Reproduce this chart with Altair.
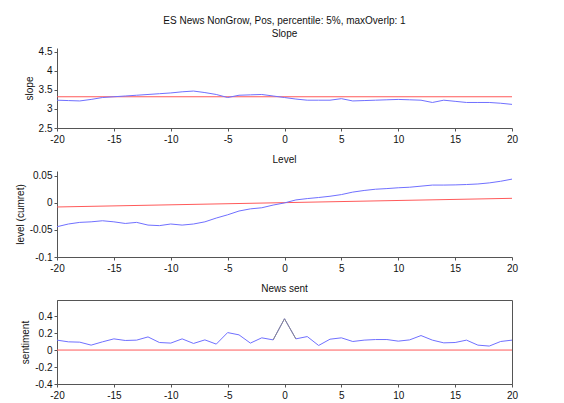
import altair as alt
import pandas as pd

# ---------------- data ----------------
x = list(range(-20, 21))

slope_blue = [3.23, 3.22, 3.21, 3.25, 3.30, 3.32, 3.34, 3.36, 3.38, 3.40,
              3.42, 3.45, 3.47, 3.43, 3.38, 3.30, 3.36, 3.37, 3.38, 3.34,
              3.30, 3.26, 3.23, 3.23, 3.23, 3.27, 3.21, 3.22, 3.23, 3.24,
              3.25, 3.24, 3.23, 3.17, 3.23, 3.20, 3.17, 3.17, 3.17, 3.15,
              3.12]
slope_red_x = [-20, 20]
slope_red = [3.32, 3.32]

level_blue = [-0.044, -0.039, -0.036, -0.035, -0.033, -0.035, -0.038, -0.036,
              -0.041, -0.042, -0.039, -0.041, -0.039, -0.035, -0.028, -0.022,
              -0.015, -0.011, -0.009, -0.004, 0.000, 0.0055, 0.008, 0.010,
              0.0123, 0.0154, 0.020, 0.023, 0.0253, 0.0265, 0.028, 0.029,
              0.031, 0.033, 0.033, 0.0333, 0.034, 0.035, 0.037, 0.040, 0.044]
level_red_x = [-20, 20]
level_red = [-0.0075, 0.0085]

sent_blue = [0.117, 0.097, 0.093, 0.058, 0.097, 0.132, 0.113, 0.117, 0.155,
             0.089, 0.082, 0.132, 0.078, 0.120, 0.070, 0.206, 0.179, 0.082,
             0.144, 0.120, 0.369, 0.132, 0.159, 0.054, 0.128, 0.144, 0.101,
             0.117, 0.124, 0.124, 0.105, 0.120, 0.171, 0.117, 0.085, 0.089,
             0.117, 0.058, 0.047, 0.101, 0.117]
sent_peak_x = [-1, 0, 1]
sent_red_x = [-20, 20]
sent_red = [0.0, 0.0]

x_ticks = [-20, -15, -10, -5, 0, 5, 10, 15, 20]
slope_ticks = [2.5, 3, 3.5, 4, 4.5]
level_ticks = [-0.1, -0.05, 0, 0.05]
sent_ticks = [-0.4, -0.2, 0, 0.2, 0.4]

main_title = "ES News NonGrow, Pos, percentile: 5%,  maxOverlp: 1"

# ---------------- helpers ----------------
FONT = "Liberation Sans"
BLUE = "#7070ff"
RED = "#ff5a5a"
AX = "#555555"
W = 455


def xenc():
    return alt.X("x:Q", scale=alt.Scale(domain=[-20, 20], nice=False, zero=False),
                 axis=alt.Axis(values=x_ticks, title=None, labelFlush=False,
                               labelExpr="'' + datum.value"))


def panel(title, ytitle, ydom, yticks, blue_vals, red_x, red_vals, height,
          peak_x=None, box=False, toff=6):
    blue_df = pd.DataFrame({"x": x, "v": blue_vals})
    red_df = pd.DataFrame({"x": red_x, "v": red_vals})
    yenc = alt.Y("v:Q", scale=alt.Scale(domain=ydom, nice=False, zero=False),
                 axis=alt.Axis(values=yticks, title=ytitle, labelFlush=False,
                               labelOverlap=False, labelExpr="'' + datum.value"))
    layers = [
        alt.Chart(red_df).mark_line(color=RED, strokeWidth=1).encode(x=xenc(), y=yenc),
        alt.Chart(blue_df).mark_line(color=BLUE, strokeWidth=1).encode(x=xenc(), y=yenc),
    ]
    if peak_x is not None:
        pk = pd.DataFrame({"x": peak_x,
                           "v": [blue_vals[x.index(p)] for p in peak_x]})
        layers.append(alt.Chart(pk).mark_line(color="#8a8a8a", strokeWidth=1)
                      .encode(x=xenc(), y=yenc))
    props = dict(
        width=W, height=height,
        title=alt.TitleParams(title, fontSize=10, font=FONT, fontWeight="normal",
                              anchor="middle", offset=toff, lineHeight=13, color="#111"))
    if box:
        props["view"] = alt.ViewConfig(stroke=AX, strokeWidth=1)
    else:
        props["view"] = alt.ViewConfig(stroke=None)
    return alt.layer(*layers).properties(**props)


p1 = panel([main_title, "Slope"], "slope", [2.5, 4.6], slope_ticks,
           slope_blue, slope_red_x, slope_red, 80, toff=8)
p2 = panel("Level", "level (cumret)", [-0.1, 0.059], level_ticks,
           level_blue, level_red_x, level_red, 86)
p3 = panel("News sent", "sentiment", [-0.4, 0.59], sent_ticks,
           sent_blue, sent_red_x, sent_red, 84, peak_x=sent_peak_x, box=True)

chart = alt.vconcat(p1, p2, p3, spacing=43, bounds="flush").properties(
    padding={"left": 7, "top": 7, "right": 5, "bottom": 0}
).configure_axis(
    grid=False, labelFont=FONT, labelFontSize=10, labelColor="#111",
    titleFont=FONT, titleFontSize=10, titleFontWeight="normal", titleColor="#111",
    domainColor=AX, tickColor=AX, tickSize=3, labelPadding=2, titlePadding=4
).configure_axisX(labelPadding=3)

chart.save("out.html", embed_options={"renderer": "svg", "actions": False})
